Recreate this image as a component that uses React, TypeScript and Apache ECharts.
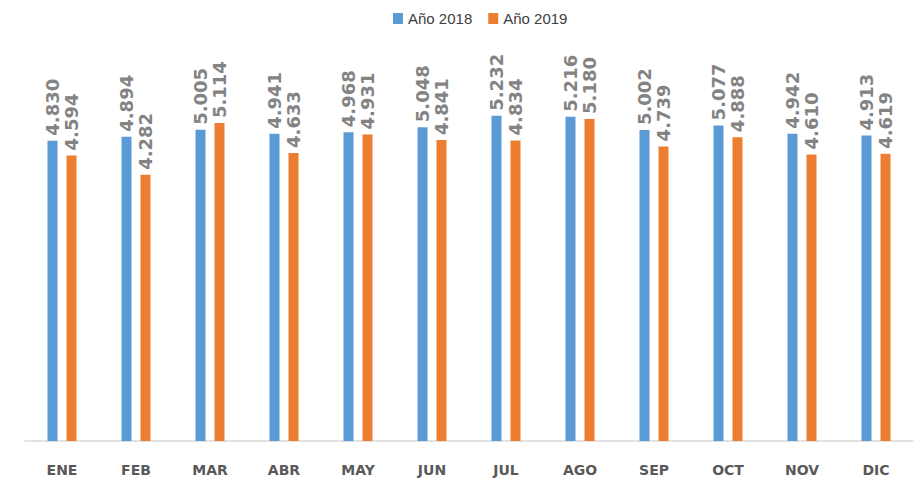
import React, { useEffect, useRef } from "react";
import * as echarts from "echarts";

const categories = ["ENE", "FEB", "MAR", "ABR", "MAY", "JUN", "JUL", "AGO", "SEP", "OCT", "NOV", "DIC"];
const seriesNames = ["Año 2018", "Año 2019"];
const values2018 = [4830, 4894, 5005, 4941, 4968, 5048, 5232, 5216, 5002, 5077, 4942, 4913];
const values2019 = [4594, 4282, 5114, 4633, 4931, 4841, 4834, 5180, 4739, 4888, 4610, 4619];

const fmt = (v: number) => {
  const s = String(Math.round(v));
  return s.replace(/\B(?=(\d{3})+(?!\d))/g, ".");
};

export default function App() {
  const ref = useRef<HTMLDivElement>(null);
  useEffect(() => {
    if (!ref.current) return;
    const chart = echarts.init(ref.current, undefined, { renderer: "svg" });
    const label = {
      show: true,
      position: "top" as const,
      rotate: 90,
      align: "left" as const,
      verticalAlign: "middle" as const,
      distance: 5,
      color: "#838383",
      fontSize: 18,
      fontWeight: "bold" as const,
      fontFamily: "DejaVu Sans",
      formatter: (p: any) => fmt(p.value),
    };
    chart.setOption({
      animation: false,
      backgroundColor: "#ffffff",
      legend: {
        top: 6,
        left: 388,
        icon: "rect",
        itemWidth: 10,
        itemHeight: 11,
        itemGap: 16,
        textStyle: {
          color: "#404040",
          fontSize: 15,
          fontFamily: "Liberation Sans Narrow, Liberation Sans, sans-serif",
        },
        data: seriesNames,
      },
      grid: { left: 25, right: 9, top: 68, bottom: 39, containLabel: false },
      xAxis: {
        type: "category",
        data: categories,
        axisLine: { lineStyle: { color: "#d9d9d9", width: 1.5 } },
        axisTick: { show: false },
        axisLabel: {
          color: "#595959",
          fontSize: 14,
          fontWeight: "bold",
          fontFamily: "DejaVu Sans",
          margin: 22,
        },
      },
      yAxis: {
        type: "value",
        min: 0,
        max: 6000,
        show: false,
        splitLine: { show: false },
      },
      series: [
        {
          name: seriesNames[0],
          type: "bar",
          data: values2018,
          barWidth: 10,
          barGap: "90%",
          itemStyle: { color: "#5B9BD5" },
          label,
        },
        {
          name: seriesNames[1],
          type: "bar",
          data: values2019,
          barWidth: 10,
          itemStyle: { color: "#ED7D31" },
          label,
        },
      ],
    });
    return () => chart.dispose();
  }, []);
  return <div ref={ref} style={{ position: "absolute", left: 0, top: 0, width: 922, height: 480 }} />;
}
